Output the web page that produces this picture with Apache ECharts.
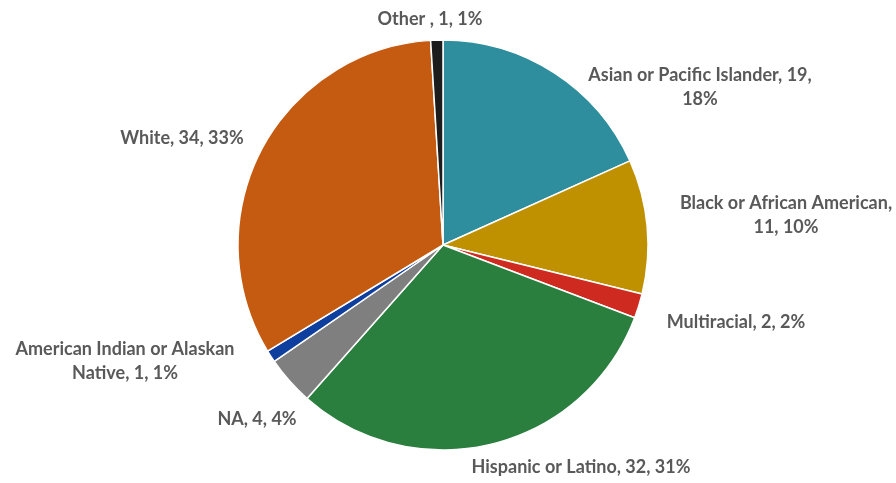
<!DOCTYPE html>
<html>
<head>
<meta charset="utf-8">
<script src="https://cdn.jsdelivr.net/npm/echarts@6/dist/echarts.min.js"></script>
<style>
  html, body { margin: 0; padding: 0; background: #ffffff; }
  #chart { width: 896px; height: 483px; }
</style>
</head>
<body>
<div id="chart"></div>
<script>
// Student counts by race / ethnicity, clockwise from 12 o'clock
const categories = [
  'Asian or Pacific Islander',
  'Black or African American',
  'Multiracial',
  'Hispanic or Latino',
  'NA',
  'American Indian or Alaskan Native',
  'White',
  'Other '
];
const counts = [19, 11, 2, 32, 4, 1, 34, 1];
const percentLabels = [18, 10, 2, 31, 4, 1, 33, 1];

const sliceColors = ['#2E8E9E', '#BF9000', '#CE2A20', '#2A7F3F', '#7F7F7F', '#0F3F9E', '#C55A11', '#1C1C1C'];

// Label text with the line breaks used for the longer entries
function labelText(i) {
  const name = categories[i], v = counts[i], p = percentLabels[i] + '%';
  if (i === 0) return name + ', ' + v + ',\n' + p;
  if (i === 1) return name + ',\n' + v + ', ' + p;
  if (i === 5) return 'American Indian or Alaskan\nNative, ' + v + ', ' + p;
  return name + ', ' + v + ', ' + p;
}

// Label anchor points (centre of each text block), in pixels
const labelAnchors = [
  [700, 87], [786, 215], [736, 322], [581, 467],
  [257, 419], [125, 361], [182, 138], [430, 19]
];

const chart = echarts.init(document.getElementById('chart'), null, { renderer: 'canvas' });

chart.setOption({
  animation: false,
  backgroundColor: '#ffffff',
  series: [{
    type: 'pie',
    center: [443, 245],
    radius: [0, 205],
    startAngle: 90,
    clockwise: true,
    avoidLabelOverlap: false,
    data: categories.map((c, i) => ({
      name: c,
      value: counts[i],
      itemStyle: { color: sliceColors[i] }
    })),
    itemStyle: { borderColor: '#ffffff', borderWidth: 1.5 },
    label: {
      show: true,
      position: 'outside',
      formatter: p => labelText(p.dataIndex),
      fontFamily: 'Lato, "Open Sans", sans-serif',
      fontWeight: 'bold',
      fontSize: 18,
      lineHeight: 24,
      color: '#595959',
      align: 'center'
    },
    labelLine: { show: false },
    labelLayout: p => ({
      x: labelAnchors[p.dataIndex][0],
      y: labelAnchors[p.dataIndex][1],
      align: 'center',
      verticalAlign: 'middle'
    }),
    emphasis: { disabled: true }
  }]
});
</script>
</body>
</html>
